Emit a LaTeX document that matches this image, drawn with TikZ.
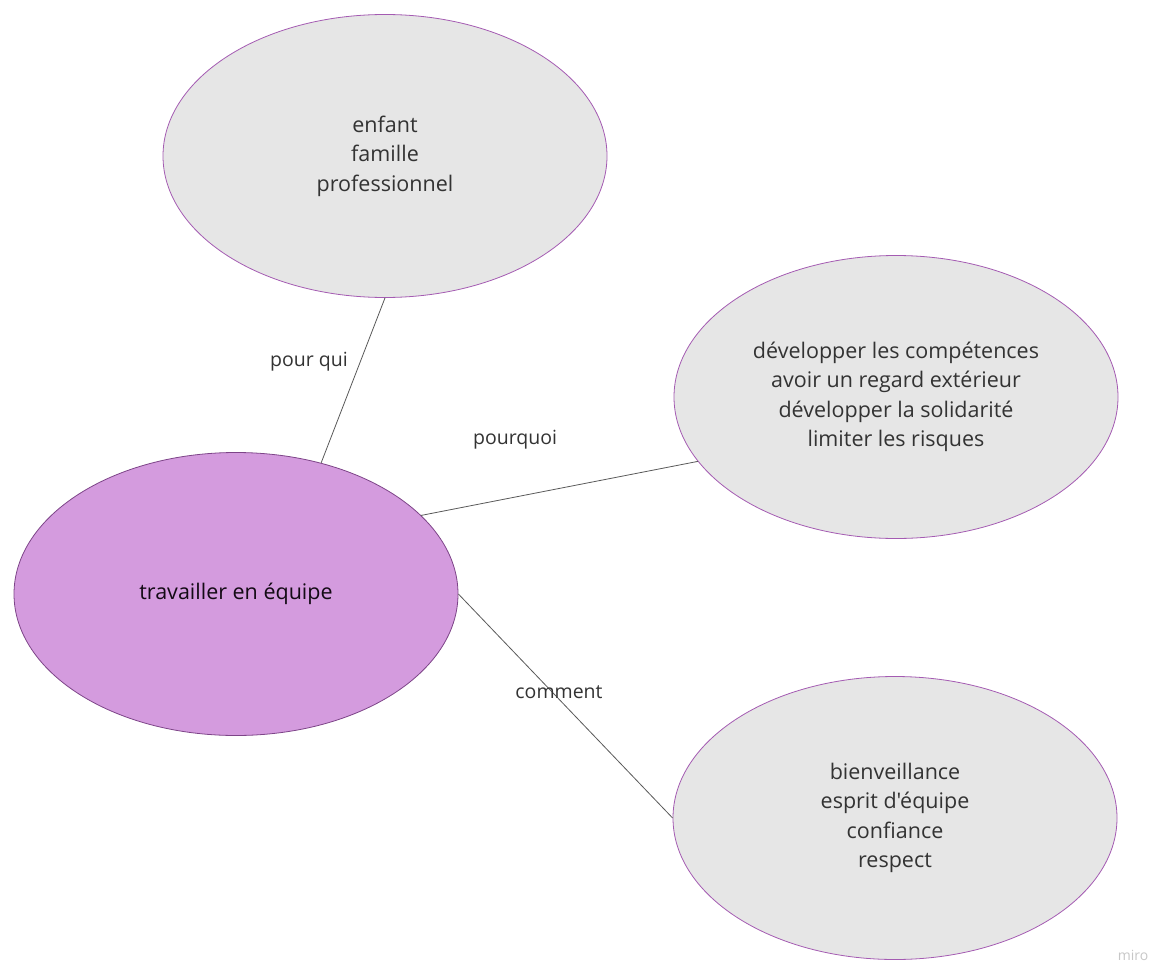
\documentclass[tikz,border=0pt]{standalone}
\usepackage{fontspec}
\setmainfont{Open Sans}[Ligatures=TeXOff]
\usetikzlibrary{shapes.geometric}

\definecolor{bulle}{HTML}{E6E6E6}
\definecolor{bord}{HTML}{A45BB2}
\definecolor{mauve}{HTML}{D49BDE}
\definecolor{mauvefonce}{HTML}{7D4488}
\definecolor{texte}{HTML}{333333}

\begin{document}
\begin{tikzpicture}[x=1pt, y=-1pt,
every node/.style={text=texte},
bubble/.style={ellipse, draw=bord, line width=0.8pt, fill=bulle,
  minimum width=444pt, minimum height=283pt, inner sep=0pt,
  align=center, font=\fontsize{21.5}{29.5}\selectfont},
topic/.style={bubble, fill=mauve, draw=mauvefonce, text=black!85!mauvefonce},
lien/.style={draw=black!65, line width=0.8pt},
etiquette/.style={font=\fontsize{19.5}{24}\selectfont}
    ]
  \useasboundingbox (0,0) rectangle (1158,963);
  \node[topic] (travail) at (236,594) {travailler en équipe};
  \node[bubble] (pourqui) at (385,156) {enfant\\famille\\professionnel};
  \node[bubble] (pourquoi) at (896,397) {développer les compétences\\avoir un regard extérieur\\développer la solidarité\\limiter les risques};
  \node[bubble] (comment) at (895,818) {bienveillance\\esprit d'équipe\\confiance\\respect};

  \draw[lien] (travail.57.5) -- (pourqui.south);
  \draw[lien] (travail.23.5) -- (pourquoi.198.6);
  \draw[lien] (travail.east) -- (comment.west);

  \node[etiquette] (lpourqui) at (309,362) {pour qui};
  \node[etiquette] (lpourquoi) at (515,440) {pourquoi};
  \node[etiquette] (lcomment) at (559,692) {comment};

  \node[font=\fontsize{14}{16}\selectfont, text=black!22] (miro) at (1133,955) {miro};
\end{tikzpicture}
\end{document}
